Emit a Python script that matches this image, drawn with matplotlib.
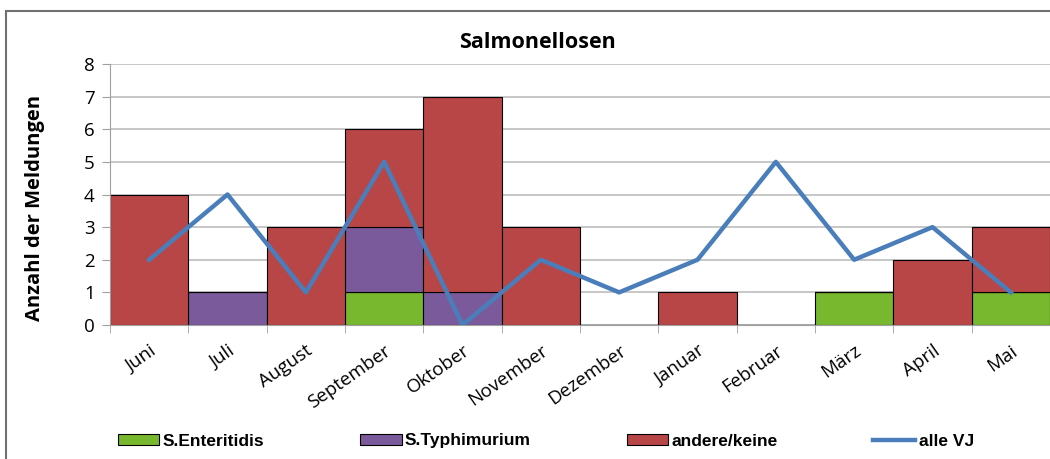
import numpy as np
import matplotlib
matplotlib.use("Agg")
import matplotlib.pyplot as plt
from matplotlib.patches import Rectangle

# data
monate = ["Juni", "Juli", "August", "September", "Oktober", "November",
          "Dezember", "Januar", "Februar", "März", "April", "Mai"]
enteritidis = [0, 0, 0, 1, 0, 0, 0, 0, 0, 1, 0, 1]
typhimurium = [0, 1, 0, 2, 1, 0, 0, 0, 0, 0, 0, 0]
andere = [4, 0, 3, 3, 6, 3, 0, 1, 0, 0, 2, 2]
alle_vj = [2, 4, 1, 5, 0, 2, 1, 2, 5, 2, 3, 1]

c_green = "#77B82F"
c_purple = "#7B5A9B"
c_red = "#B94646"
c_blue = "#4A7EBB"

fig = plt.figure(figsize=(10.5, 4.59), dpi=100)
ax = fig.add_axes([110/1050, 1-325/459, 940/1050, 261/459])

x = np.arange(len(monate))
ent = np.array(enteritidis)
typ = np.array(typhimurium)
b1 = ax.bar(x, ent, width=1.0, color=c_green, edgecolor="black", linewidth=0.8, zorder=2)
b2 = ax.bar(x, typ, width=1.0, bottom=ent, color=c_purple, edgecolor="black", linewidth=0.8, zorder=2)
b3 = ax.bar(x, andere, width=1.0, bottom=ent + typ, color=c_red, edgecolor="black", linewidth=0.8, zorder=2)
l1, = ax.plot(x, alle_vj, color=c_blue, linewidth=3.2, zorder=3)

ax.set_xlim(-0.5, len(monate) - 0.5)
ax.set_ylim(0, 8)
ax.set_yticks(range(0, 9))
ax.yaxis.grid(True, color="#BEBEBE", linewidth=1.2, zorder=0)
ax.set_axisbelow(True)
for s in ["top", "right"]:
    ax.spines[s].set_visible(False)
ax.spines["left"].set_color("#A0A0A0")
ax.spines["bottom"].set_color("#A0A0A0")
ax.tick_params(axis="y", length=6, color="#A0A0A0", labelsize=13.5, pad=5)

ax.set_xticks(x)
ax.set_xticklabels(monate, rotation=35, ha="right", rotation_mode="anchor",
                   fontsize=13.5, family="Open Sans")
ax.tick_params(axis="x", which="major", length=0, pad=12)
ax.set_xticks(np.arange(-0.5, len(monate)), minor=True)
ax.tick_params(axis="x", which="minor", length=6, color="#A0A0A0")
for lab in ax.get_yticklabels():
    lab.set_family("Open Sans")

fig.text(537/1050, 1-42/459, "Salmonellosen", ha="center", va="center",
         fontsize=15.5, fontweight="bold", family="Open Sans")
fig.text(35/1050, 1-208/459, "Anzahl der Meldungen", ha="center", va="center",
         rotation=90, fontsize=14.5, fontweight="bold", family="Open Sans")

leg = fig.legend([b1, b2, b3, l1], ["S.Enteritidis", "S.Typhimurium", "andere/keine", "alle VJ"],
                 loc="center left", bbox_to_anchor=(102/1050, 1-441/459), ncol=4,
                 frameon=False, handlelength=2.4, handleheight=0.55, handletextpad=0.2,
                 columnspacing=5.5, prop={"family": "Liberation Sans", "weight": "bold", "size": 12.5})

fig.patches.append(Rectangle((6/1050, -0.1), 1.2, 1 - 11/459 + 0.1, transform=fig.transFigure,
                             fill=False, edgecolor="#707070", linewidth=1.5))

fig.savefig("out.png", dpi=100)
